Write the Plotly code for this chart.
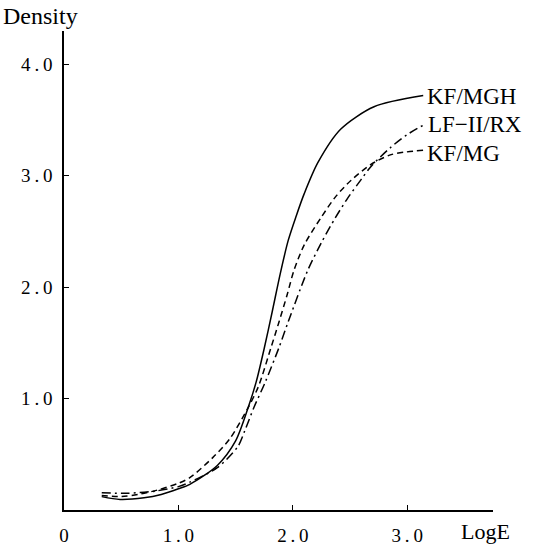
import plotly.graph_objects as go

# KF/MGH (solid)
mgh_x = [0.33, 0.49, 0.70, 0.85, 1.00, 1.10, 1.34, 1.50, 1.61, 1.68, 1.75, 1.82, 1.89, 1.96, 2.03, 2.10, 2.22, 2.42, 2.71, 3.14]
mgh_y = [0.12, 0.095, 0.11, 0.14, 0.19, 0.23, 0.40, 0.62, 0.92, 1.15, 1.45, 1.78, 2.12, 2.42, 2.64, 2.84, 3.12, 3.42, 3.62, 3.72]

# KF/MG (dashed)
mg_x = [0.33, 0.50, 0.65, 0.82, 1.00, 1.10, 1.30, 1.45, 1.61, 1.70, 1.81, 1.88, 1.95, 2.01, 2.10, 2.25, 2.38, 2.51, 2.68, 2.86, 3.14]
mg_y = [0.13, 0.12, 0.14, 0.18, 0.24, 0.29, 0.47, 0.64, 0.92, 1.11, 1.46, 1.69, 1.93, 2.15, 2.38, 2.63, 2.82, 2.96, 3.10, 3.19, 3.23]

# LF-II/RX (dash-dot)
rx_x = [0.33, 0.55, 0.80, 1.00, 1.10, 1.34, 1.52, 1.58, 1.66, 1.76, 1.88, 1.96, 2.13, 2.25, 2.37, 2.48, 2.60, 2.68, 2.85, 3.00, 3.15]
rx_y = [0.155, 0.15, 0.17, 0.21, 0.25, 0.38, 0.57, 0.71, 0.92, 1.15, 1.46, 1.69, 2.15, 2.40, 2.62, 2.80, 2.97, 3.08, 3.25, 3.37, 3.46]

x_ticks = [0, 1, 2, 3]
x_ticktext = ["0", "1\u2009.\u20090", "2\u2009.\u20090", "3\u2009.\u20090"]
y_ticks = [1, 2, 3, 4]
y_ticktext = ["1\u2009.\u20090", "2\u2009.\u20090", "3\u2009.\u20090", "4\u2009.\u20090"]

FONT = "Liberation Serif, Times New Roman, serif"

fig = go.Figure()
fig.add_trace(go.Scatter(x=mgh_x, y=mgh_y, mode="lines",
                         line=dict(color="black", width=1.5, shape="spline", smoothing=0.8)))
fig.add_trace(go.Scatter(x=rx_x, y=rx_y, mode="lines",
                         line=dict(color="black", width=1.5, shape="spline", smoothing=0.8,
                                   dash="9px,4px,2px,4px")))
fig.add_trace(go.Scatter(x=mg_x, y=mg_y, mode="lines",
                         line=dict(color="black", width=1.5, shape="spline", smoothing=0.8,
                                   dash="6px,4px")))

labels = [("KF/MGH", mgh_x[-1], mgh_y[-1], -1),
          ("LF\u2212II/RX", rx_x[-1], rx_y[-1], 0),
          ("KF/MG", mg_x[-1], mg_y[-1], -3)]
for txt, lx, ly, ys in labels:
    fig.add_annotation(x=lx, y=ly, text=txt, showarrow=False, xanchor="left",
                       yanchor="middle", xshift=2, yshift=ys,
                       font=dict(family=FONT, size=23, color="black"))

fig.add_annotation(xref="paper", yref="paper", x=-0.146, y=1.0, yshift=15, text="Density",
                   showarrow=False, xanchor="left", yanchor="middle",
                   font=dict(family=FONT, size=24, color="black"))
fig.add_annotation(xref="paper", yref="paper", x=1.044, y=0, yshift=-21, text="LogE",
                   showarrow=False, xanchor="right", yanchor="middle",
                   font=dict(family=FONT, size=22, color="black"))

fig.update_layout(
    width=538, height=558,
    margin=dict(l=64, r=45, t=31, b=29),
    paper_bgcolor="white", plot_bgcolor="white",
    showlegend=False,
    font=dict(family=FONT, size=19, color="black"),
    xaxis=dict(range=[0, 3.75], tickvals=x_ticks, ticktext=x_ticktext,
               showgrid=False, zeroline=False, showline=True, linecolor="black", linewidth=1.5,
               ticks="inside", ticklen=5, tickcolor="black", ticklabelstandoff=7),
    yaxis=dict(range=[0, 4.3], tickvals=y_ticks, ticktext=y_ticktext,
               showgrid=False, zeroline=False, showline=True, linecolor="black", linewidth=1.5,
               ticks="inside", ticklen=5, tickcolor="black", ticklabelstandoff=6),
)

fig.write_html("out.html")
